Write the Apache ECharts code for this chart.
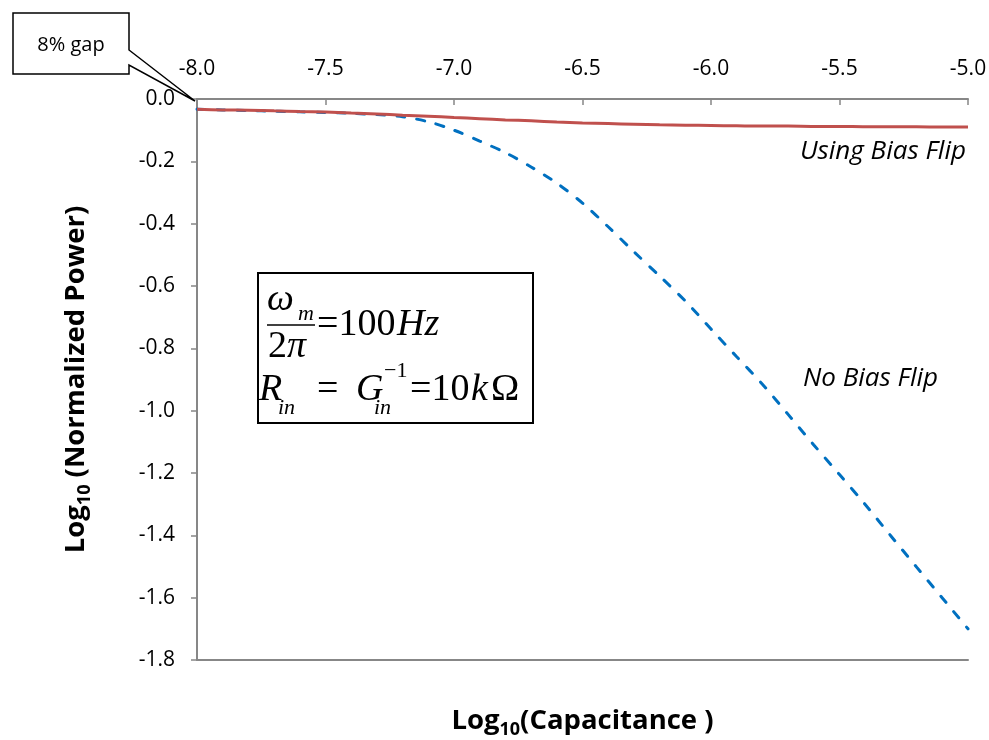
<!DOCTYPE html>
<html>
<head>
<meta charset="utf-8">
<script src="https://cdn.jsdelivr.net/npm/echarts@6/dist/echarts.min.js"></script>
<style>
  html, body { margin: 0; padding: 0; background: #fff; }
  #chart { width: 989px; height: 740px; }
</style>
</head>
<body>
<div id="chart"></div>
<script>
// log10 of capacitance (farads)
const logCapacitance = [-8.0, -7.9, -7.8, -7.7, -7.6, -7.5, -7.4, -7.3, -7.2, -7.1,
  -7.0, -6.9, -6.8, -6.7, -6.6, -6.5, -6.4, -6.3, -6.2, -6.1,
  -6.0, -5.9, -5.8, -5.7, -5.6, -5.5, -5.4, -5.3, -5.2, -5.1, -5.0];

// log10 of normalized harvested power, without bias flipping
const noBiasFlip = [-0.033, -0.035, -0.037, -0.039, -0.041, -0.043, -0.046, -0.050, -0.057, -0.073,
  -0.100, -0.135, -0.172, -0.218, -0.270, -0.334, -0.410, -0.490, -0.568, -0.648,
  -0.738, -0.827, -0.915, -1.012, -1.110, -1.205, -1.301, -1.402, -1.502, -1.601, -1.700];

// log10 of normalized harvested power, with bias flipping
const usingBiasFlip = [-0.033, -0.035, -0.036, -0.038, -0.040, -0.042, -0.045, -0.048, -0.052, -0.055,
  -0.059, -0.063, -0.067, -0.070, -0.074, -0.077, -0.079, -0.081, -0.083, -0.084,
  -0.085, -0.086, -0.087, -0.087, -0.088, -0.088, -0.089, -0.089, -0.089, -0.090, -0.090];

const xRange = { min: -8.0, max: -5.0, step: 0.5 };
const yRange = { min: -1.8, max: 0.0, step: 0.2 };

const AXIS_GRAY = '#878787';
const SANS = '"Open Sans", Lato, sans-serif';
const SERIF = '"Liberation Serif", "DejaVu Serif", serif';

const chart = echarts.init(document.getElementById('chart'), null, { renderer: 'canvas' });

const fmt = v => (Math.abs(v) < 1e-9 ? '0.0' : v.toFixed(1));

// Math text helper: place a glyph run by its baseline.
const MATH_BIG = 38, MATH_SMALL = 22;
function mathText(x, baseline, text, size, italic) {
  return {
    type: 'text', z: 11, x: x, y: baseline - 0.33 * size,
    style: {
      text: text, fontFamily: SERIF, fontSize: size, fontStyle: italic ? 'italic' : 'normal',
      fill: '#000', verticalAlign: 'middle'
    }
  };
}

const titleRich = {
  t: { fontFamily: SANS, fontWeight: 'bold', fontSize: 27.5, color: '#000' },
  s: { fontFamily: SANS, fontWeight: 'bold', fontSize: 18, color: '#000', padding: [17, 0, 0, 0] }
};

const option = {
  backgroundColor: '#ffffff',
  animation: false,
  grid: { left: 197, right: 21, top: 99, bottom: 80, containLabel: false, outerBoundsMode: 'none' },
  xAxis: [
    {
      type: 'value', position: 'top',
      min: xRange.min, max: xRange.max, interval: xRange.step,
      axisLine: { show: true, lineStyle: { color: AXIS_GRAY, width: 2 } },
      axisTick: { show: true, inside: true, length: 6, lineStyle: { color: AXIS_GRAY, width: 1.5 } },
      axisLabel: { margin: 19, color: '#000', fontFamily: SANS, fontSize: 21, formatter: fmt },
      splitLine: { show: false }
    },
    {
      type: 'value', position: 'bottom',
      min: xRange.min, max: xRange.max, interval: xRange.step,
      axisLine: { show: true, onZero: false, lineStyle: { color: AXIS_GRAY, width: 2 } },
      axisTick: { show: false }, axisLabel: { show: false }, splitLine: { show: false },
      name: '{t|Log}{s|10}{t|(Capacitance )}',
      nameLocation: 'middle', nameGap: 44,
      nameTextStyle: { rich: titleRich }
    }
  ],
  yAxis: {
    type: 'value', position: 'left',
    min: yRange.min, max: yRange.max, interval: yRange.step,
    axisLine: { show: true, onZero: false, lineStyle: { color: AXIS_GRAY, width: 2 } },
    axisTick: { show: true, inside: false, length: 6, lineStyle: { color: AXIS_GRAY, width: 1.5 } },
    axisLabel: { margin: 22, color: '#000', fontFamily: SANS, fontSize: 21, formatter: fmt },
    splitLine: { show: false },
    name: '{t|Log}{s|10}{t| (Normalized Power)}',
    nameLocation: 'middle', nameGap: 103, nameRotate: 90,
    nameTextStyle: { rich: titleRich }
  },
  series: [
    {
      name: 'No Bias Flip', type: 'line', xAxisIndex: 0,
      data: logCapacitance.map((x, i) => [x, noBiasFlip[i]]),
      smooth: 0.3, showSymbol: false, symbol: 'none',
      lineStyle: { color: '#0070C0', width: 3, type: [8, 12], cap: 'round' },
      z: 2
    },
    {
      name: 'Using Bias Flip', type: 'line', xAxisIndex: 0,
      data: logCapacitance.map((x, i) => [x, usingBiasFlip[i]]),
      smooth: 0.3, showSymbol: false, symbol: 'none',
      lineStyle: { color: '#C0504D', width: 3 },
      z: 3
    }
  ],
  graphic: [
    // series labels
    { type: 'text', right: 23, top: 139,
      style: { text: 'Using Bias Flip', fontFamily: SANS, fontStyle: 'italic', fontSize: 26, fill: '#000' } },
    { type: 'text', left: 803, top: 366,
      style: { text: 'No Bias Flip', fontFamily: SANS, fontStyle: 'italic', fontSize: 26, fill: '#000' } },

    // "8% gap" callout with pointer to the curve start
    { type: 'polygon', z: 10,
      shape: { points: [[13, 13], [129, 13], [129, 50], [195, 101], [129, 65], [129, 74], [13, 74]] },
      style: { fill: '#fff', stroke: '#000', lineWidth: 1.5 } },
    { type: 'text', z: 11, x: 71, y: 45,
      style: { text: '8% gap', fontFamily: SANS, fontSize: 20, fill: '#000', align: 'center', verticalAlign: 'middle' } },

    // parameter box
    { type: 'rect', z: 10, shape: { x: 258, y: 273, width: 275, height: 150 },
      style: { fill: '#fff', stroke: '#000', lineWidth: 2 } },
    mathText(267, 313, 'ω', MATH_BIG, true),
    mathText(298, 321, 'm', MATH_SMALL, true),
    { type: 'line', z: 11, shape: { x1: 267, y1: 325, x2: 315, y2: 325 }, style: { stroke: '#000', lineWidth: 1.5 } },
    mathText(268, 360, '2', MATH_BIG, false),
    mathText(287, 360, 'π', MATH_BIG, true),
    mathText(317, 338, '=100', MATH_BIG, false),
    mathText(397, 338, 'Hz', MATH_BIG, true),
    mathText(259, 403, 'R', MATH_BIG, true),
    mathText(278, 415, 'in', MATH_SMALL, true),
    mathText(317, 403, '=', MATH_BIG, false),
    mathText(356, 403, 'G', MATH_BIG, true),
    mathText(384, 378, '−1', MATH_SMALL, false),
    mathText(374, 415, 'in', MATH_SMALL, true),
    mathText(410, 403, '=10', MATH_BIG, false),
    mathText(471, 403, 'k', MATH_BIG, true),
    mathText(491, 403, 'Ω', MATH_BIG, false)
  ]
};

chart.setOption(option);
</script>
</body>
</html>
